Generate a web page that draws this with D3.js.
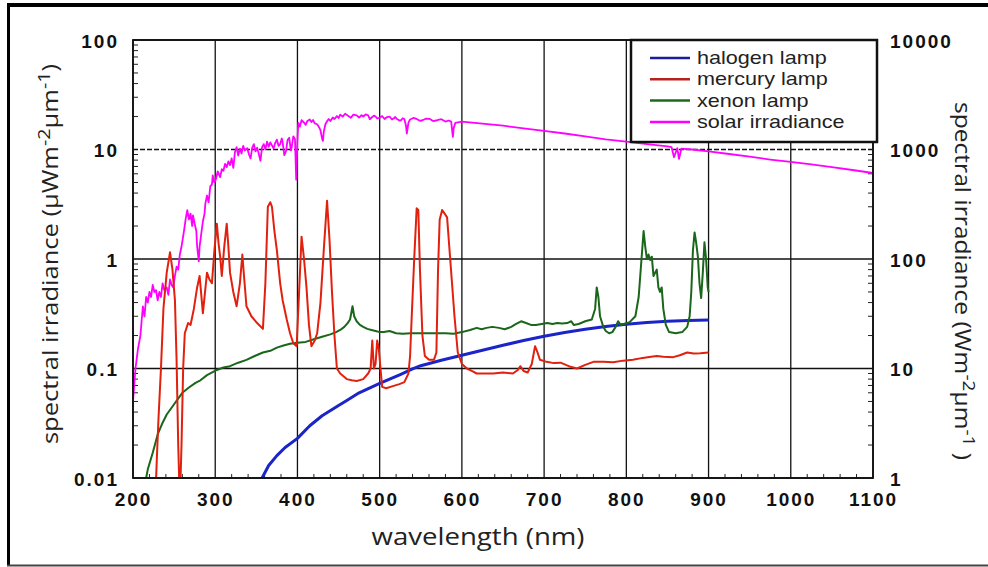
<!DOCTYPE html>
<html>
<head>
<meta charset="utf-8">
<script src="https://cdn.jsdelivr.net/npm/d3@7"></script>
<style>
  body { margin: 0; background: #fff; }
  svg { display: block; }
</style>
</head>
<body>
<div id="chart"></div>
<script>
// axis ticks
const xTicks = [200, 300, 400, 500, 600, 700, 800, 900, 1000, 1100];
const yTicks = [0.01, 0.1, 1, 10, 100];
const yLabels = ["0.01", "0.1", "1", "10", "100"];
const yRightTicks = [1, 10, 100, 1000, 10000];
const yRightLabels = ["1", "10", "100", "1000", "10000"];

const seriesNames = ["halogen lamp", "mercury lamp", "xenon lamp", "solar irradiance"];

// [wavelength nm, spectral irradiance uW m-2 um-1]
const halogen = [
  [357, 0.01], [365, 0.013], [375, 0.016], [385, 0.019], [400, 0.023], [415, 0.03],
  [430, 0.037], [450, 0.046], [460, 0.051], [475, 0.06], [500, 0.073], [525, 0.088],
  [540, 0.099], [550, 0.106], [575, 0.119], [600, 0.132], [625, 0.147], [650, 0.163],
  [675, 0.18], [700, 0.197], [725, 0.213], [750, 0.228], [775, 0.242], [800, 0.254],
  [825, 0.263], [850, 0.27], [875, 0.274], [900, 0.277]
];

const mercury = [
  [227, 0.006], [229, 0.015], [231, 0.035], [234, 0.1], [237, 0.35], [241, 0.75],
  [245, 1.15], [248, 0.8], [251, 0.42], [253, 0.12], [255, 0.02], [257, 0.006],
  [259, 0.02], [261, 0.1], [263, 0.21], [267, 0.26], [270, 0.25], [274, 0.35],
  [278, 0.55], [281, 0.7], [285, 0.32], [290, 0.75], [293, 0.65], [296, 0.6],
  [299, 1.2], [302, 2.1], [304, 1.4], [306, 1.05], [308, 0.7], [311, 1.3],
  [314, 2.1], [316, 1.3], [318, 0.75], [322, 0.5], [326, 0.37], [330, 0.6],
  [333, 1.1], [335, 0.7], [338, 0.37], [344, 0.3], [351, 0.26], [358, 0.23],
  [361, 0.6], [364, 3.0], [367, 3.3], [369, 3.0], [372, 1.8], [375, 1.2],
  [379, 0.6], [382, 0.42], [387, 0.28], [391, 0.21], [395, 0.17], [399, 0.16],
  [402, 0.5], [405, 1.6], [408, 1.0], [411, 0.55], [414, 0.25], [417, 0.16],
  [421, 0.18], [424, 0.21], [428, 0.4], [432, 1.2], [436, 3.4], [439, 1.5],
  [442, 0.5], [445, 0.2], [448, 0.1], [452, 0.09], [456, 0.085], [460, 0.08],
  [466, 0.078], [472, 0.077], [480, 0.08], [486, 0.09], [489, 0.1], [491, 0.18],
  [493, 0.1], [495, 0.11], [497, 0.18], [499, 0.15], [501, 0.1], [503, 0.068],
  [508, 0.066], [516, 0.069], [524, 0.072], [530, 0.075], [535, 0.09], [537, 0.13],
  [539, 0.3], [542, 1.0], [545, 2.9], [547, 2.8], [549, 0.8], [552, 0.2],
  [555, 0.13], [560, 0.12], [566, 0.12], [569, 0.14], [571, 0.8], [573, 2.3],
  [576, 2.8], [579, 2.6], [582, 2.4], [585, 1.2], [588, 0.6], [591, 0.3],
  [595, 0.14], [600, 0.11], [606, 0.1], [612, 0.095], [618, 0.09], [628, 0.09],
  [638, 0.09], [650, 0.092], [662, 0.09], [668, 0.097], [671, 0.105], [675, 0.095],
  [680, 0.092], [685, 0.11], [689, 0.16], [692, 0.14], [695, 0.12], [703, 0.115],
  [712, 0.112], [720, 0.113], [730, 0.105], [740, 0.1], [750, 0.108], [760, 0.115],
  [772, 0.115], [784, 0.114], [796, 0.118], [808, 0.12], [820, 0.125], [830, 0.128],
  [837, 0.13], [845, 0.128], [857, 0.127], [865, 0.132], [874, 0.14], [882, 0.137],
  [890, 0.138], [900, 0.14]
];

const xenon = [
  [216, 0.01], [218, 0.012], [224, 0.017], [230, 0.025], [236, 0.032], [241, 0.038],
  [248, 0.045], [254, 0.052], [260, 0.06], [268, 0.067], [276, 0.074], [282, 0.078],
  [290, 0.087], [302, 0.097], [310, 0.102], [318, 0.105], [328, 0.113], [338, 0.12],
  [348, 0.13], [358, 0.14], [367, 0.145], [375, 0.155], [383, 0.162], [391, 0.168],
  [400, 0.172], [410, 0.175], [420, 0.185], [430, 0.195], [440, 0.205], [447, 0.215],
  [452, 0.225], [457, 0.24], [461, 0.26], [464, 0.28], [467, 0.37], [469, 0.3],
  [472, 0.27], [476, 0.25], [480, 0.24], [485, 0.23], [490, 0.225], [495, 0.22],
  [500, 0.215], [505, 0.215], [512, 0.22], [520, 0.21], [528, 0.208], [538, 0.21],
  [548, 0.21], [560, 0.21], [570, 0.21], [580, 0.21], [590, 0.208], [600, 0.215],
  [610, 0.225], [618, 0.235], [624, 0.228], [630, 0.235], [637, 0.24], [645, 0.235],
  [652, 0.228], [660, 0.24], [666, 0.255], [672, 0.27], [678, 0.26], [684, 0.25],
  [690, 0.25], [697, 0.255], [704, 0.26], [710, 0.255], [716, 0.26], [722, 0.258],
  [728, 0.26], [733, 0.27], [736, 0.25], [742, 0.255], [750, 0.27], [758, 0.28],
  [762, 0.35], [764, 0.55], [766, 0.45], [768, 0.3], [772, 0.24], [775, 0.22],
  [779, 0.21], [783, 0.215], [787, 0.24], [790, 0.27], [793, 0.25], [797, 0.255],
  [804, 0.265], [811, 0.3], [815, 0.45], [818, 0.9], [821, 1.8], [823, 1.3],
  [825, 1.0], [827, 1.1], [829, 0.98], [831, 1.05], [833, 0.7], [835, 0.75],
  [837, 0.8], [839, 0.55], [841, 0.5], [843, 0.55], [845, 0.35], [848, 0.25],
  [852, 0.215], [860, 0.21], [868, 0.215], [874, 0.24], [877, 0.3], [879, 0.5],
  [881, 1.2], [883, 1.75], [885, 1.4], [887, 1.05], [889, 0.6], [891, 0.44],
  [893, 0.75], [895, 1.42], [897, 1.0], [899, 0.55], [900, 0.5]
];

const solar = [
  [200, 0.05], [203, 0.1], [206, 0.15], [209, 0.2], [212, 0.37], [214, 0.3],
  [216, 0.45], [218, 0.4], [220, 0.5], [222, 0.45], [224, 0.58], [226, 0.5],
  [228, 0.52], [230, 0.42], [232, 0.5], [234, 0.45], [236, 0.6], [238, 0.52],
  [241, 0.55], [243, 0.47], [245, 0.65], [247, 0.58], [249, 0.55], [251, 0.7],
  [253, 0.85], [255, 0.8], [257, 1.1], [259, 1.3], [262, 1.8], [264, 2.3],
  [266, 2.8], [268, 2.3], [270, 2.6], [272, 2.0], [273, 2.5], [275, 2.1],
  [277, 1.8], [278, 1.3], [280, 0.95], [281, 1.3], [283, 1.7], [285, 2.2],
  [287, 2.6], [288, 3.2], [290, 3.8], [292, 3.3], [294, 4.6], [296, 4.8],
  [297, 5.8], [299, 5.0], [301, 5.4], [303, 6.3], [306, 5.6], [308, 6.6],
  [310, 6.4], [312, 7.4], [314, 6.9], [316, 7.8], [318, 7.2], [320, 8.3],
  [322, 6.8], [324, 9.5], [326, 10.5], [328, 8.8], [330, 10.2], [332, 9.2],
  [334, 10.8], [336, 9.8], [339, 10.3], [341, 9.0], [343, 8.3], [345, 10.4],
  [347, 11.2], [349, 9.6], [351, 10.4], [353, 9.1], [355, 7.9], [357, 10.5],
  [359, 11.2], [361, 10.0], [363, 11.8], [365, 10.6], [367, 11.6], [369, 10.9],
  [371, 10.2], [373, 11.5], [375, 12.3], [377, 10.8], [379, 11.2], [381, 12.6],
  [382, 11.6], [384, 8.9], [386, 9.6], [388, 12.2], [390, 12.8], [392, 9.8],
  [393, 10.5], [395, 13.2], [397, 12.4], [398.5, 5.3], [400, 12], [401, 17.5],
  [403, 16.2], [405, 18.5], [408, 17.6], [410, 16.8], [412, 18.2], [415, 18.8],
  [417, 17.8], [419, 18.6], [421, 17.3], [424, 17], [426, 16.1], [428, 15],
  [430, 12.5], [431, 12], [432, 14.5], [434, 17], [436, 18.1], [438, 19],
  [440, 18.2], [443, 19.6], [445, 19.0], [448, 20.2], [450, 19.4], [452, 20.8],
  [455, 20.0], [458, 21.2], [461, 20.4], [465, 19.5], [468, 20.8], [472, 20.5],
  [475, 19.6], [478, 20.6], [480, 20], [483, 20.9], [486, 20.5], [488, 18.9],
  [490, 19.5], [493, 20.4], [495, 20], [497, 19.2], [500, 19.5], [503, 20.2],
  [506, 19], [509, 19.8], [512, 20], [515, 18.8], [517, 19.2], [519, 19.8],
  [521, 19], [524, 18.4], [526, 18.5], [528, 19.3], [530, 19], [532, 16.5],
  [533, 14], [535, 17.6], [537, 18.8], [541, 19.4], [545, 19], [549, 18.3],
  [552, 18.5], [556, 19.1], [561, 19], [565, 18.2], [570, 18.5], [575, 18.9],
  [580, 18], [584, 18.4], [587, 18], [589, 13], [590, 15.6], [592, 17.5],
  [600, 18], [625, 17.2], [650, 16.5], [675, 15.6], [700, 14.8], [725, 14],
  [750, 13.2], [775, 12.4], [800, 11.8], [825, 11.2], [850, 10.7], [855, 10.5],
  [858, 8.5], [862, 10.3], [864, 8.2], [867, 10.2], [880, 10], [900, 9.6],
  [925, 9.1], [950, 8.6], [975, 8.1], [1000, 7.7], [1025, 7.3], [1050, 6.9],
  [1075, 6.5], [1100, 6.1]
];

const width = 988;
const height = 567;
const plot = { left: 133, right: 873, top: 40, bottom: 478 };

const svg = d3
  .select("#chart")
  .append("svg")
  .attr("width", width)
  .attr("height", height);

// outer frame
svg.append("line").attr("x1", 7).attr("x2", width).attr("y1", 5).attr("y2", 5)
  .attr("stroke", "#000").attr("stroke-width", 4);
svg.append("line").attr("x1", 8.5).attr("x2", 8.5).attr("y1", 3).attr("y2", 566)
  .attr("stroke", "#000").attr("stroke-width", 3);
svg.append("line").attr("x1", 7).attr("x2", width).attr("y1", 565.5).attr("y2", 565.5)
  .attr("stroke", "#444").attr("stroke-width", 2);

let x = d3.scaleLinear().domain([200, 1100]).range([plot.left, plot.right]);
let y = d3.scaleLog().domain([0.01, 100]).range([plot.bottom, plot.top]);
let yRight = d3.scaleLog().domain([1, 10000]).range([plot.bottom, plot.top]);

svg.append("defs").append("clipPath").attr("id", "clip")
  .append("rect")
  .attr("x", plot.left).attr("y", plot.top)
  .attr("width", plot.right - plot.left).attr("height", plot.bottom - plot.top);

// grid
let grid = svg.append("g").attr("stroke", "#111").attr("stroke-width", 1.3);
grid.selectAll(".vgrid")
  .data(xTicks)
  .enter()
  .append("line")
  .attr("x1", (d) => x(d)).attr("x2", (d) => x(d))
  .attr("y1", plot.top).attr("y2", plot.bottom);
grid.selectAll(".hgrid")
  .data(yTicks)
  .enter()
  .append("line")
  .attr("x1", plot.left).attr("x2", plot.right)
  .attr("y1", (d) => y(d)).attr("y2", (d) => y(d))
  .attr("stroke-dasharray", (d) => (d === 10 ? "5,2" : null));

// minor ticks
let minorY = [];
[0.01, 0.1, 1, 10].forEach((dec) => {
  for (let k = 2; k <= 9; k++) minorY.push(dec * k);
});
let minorX = d3.range(220, 1100, 20).filter((d) => d % 100 !== 0);
let minor = svg.append("g").attr("stroke", "#222").attr("stroke-width", 1);
minor.selectAll(".ml").data(minorY).enter().append("line")
  .attr("x1", plot.left).attr("x2", plot.left + 5)
  .attr("y1", (d) => y(d)).attr("y2", (d) => y(d));
minor.selectAll(".mr").data(minorY).enter().append("line")
  .attr("x1", plot.right).attr("x2", plot.right - 5)
  .attr("y1", (d) => y(d)).attr("y2", (d) => y(d));
minor.selectAll(".mb").data(minorX).enter().append("line")
  .attr("x1", (d) => x(d)).attr("x2", (d) => x(d))
  .attr("y1", plot.bottom).attr("y2", plot.bottom - 4);

// curves
let line = d3.line()
  .x((d) => x(d[0]))
  .y((d) => y(d[1]));

let curves = svg.append("g").attr("clip-path", "url(#clip)").attr("fill", "none")
  .attr("stroke-linejoin", "round");

curves.append("path").datum(solar).attr("d", line)
  .attr("stroke", "#ff00ff").attr("stroke-width", 1.8);
curves.append("path").datum(halogen).attr("d", line)
  .attr("stroke", "#1a24c8").attr("stroke-width", 3);
curves.append("path").datum(xenon).attr("d", line)
  .attr("stroke", "#1a661a").attr("stroke-width", 2);
curves.append("path").datum(mercury).attr("d", line)
  .attr("stroke", "#e2200e").attr("stroke-width", 2);

// plot border
svg.append("rect")
  .attr("x", plot.left).attr("y", plot.top)
  .attr("width", plot.right - plot.left).attr("height", plot.bottom - plot.top)
  .attr("fill", "none").attr("stroke", "#111").attr("stroke-width", 1.8);

// axes
const tickFont = "'Liberation Sans', Arial, sans-serif";

let yAxis = d3.axisLeft(y).tickValues(yTicks)
  .tickFormat((d, i) => yLabels[i]).tickSize(0).tickPadding(14);
let gy = svg.append("g").attr("transform", `translate(${plot.left},0)`).call(yAxis);

let yAxisR = d3.axisRight(yRight).tickValues(yRightTicks)
  .tickFormat((d, i) => yRightLabels[i]).tickSize(0).tickPadding(17);
let gyr = svg.append("g").attr("transform", `translate(${plot.right},0)`).call(yAxisR);

let xAxis = d3.axisBottom(x).tickValues(xTicks).tickFormat((d) => d).tickSize(0).tickPadding(15);
let gx = svg.append("g").attr("transform", `translate(0,${plot.bottom})`).call(xAxis);

[gy, gyr, gx].forEach((g) => {
  g.select(".domain").remove();
  g.selectAll("text")
    .attr("fill", "#111")
    .style("font-family", tickFont)
    .style("font-weight", "bold")
    .style("font-size", "19px")
    .style("letter-spacing", "2px");
});
gy.selectAll("text").attr("dy", "0.38em");
gyr.selectAll("text").attr("dy", "0.38em");

// axis titles
const titleFont = "'Open Sans', 'Noto Sans', sans-serif";

svg.append("text")
  .attr("transform", "translate(478,545) scale(1.2,1)")
  .attr("text-anchor", "middle")
  .style("font-family", titleFont).style("font-size", "23px").attr("fill", "#222")
  .text("wavelength (nm)");

function yTitle(tx, ty, rot, stretch, unitPre, close) {
  let t = svg.append("text")
    .attr("transform", `translate(${tx},${ty}) rotate(${rot}) scale(${stretch},1)`)
    .attr("text-anchor", "middle")
    .style("font-family", titleFont).style("font-size", "22px").attr("fill", "#222");
  t.append("tspan").text("spectral irradiance (" + unitPre);
  t.append("tspan").attr("dy", -8).style("font-size", "17px").text("-2");
  t.append("tspan").attr("dy", 8).text("µm");
  t.append("tspan").attr("dy", -8).style("font-size", "17px").text("-1");
  t.append("tspan").attr("dy", 8).text(close);
}
yTitle(58, 254, -90, 1.16, "µWm", ")");
yTitle(955, 281, 90, 1.12, "Wm", " )");

// legend
const legendColors = ["#1c1ca0", "#b82020", "#1b6b1b", "#ff00ff"];
let legend = svg.append("g");
legend.append("rect")
  .attr("x", 631).attr("y", 40).attr("width", 246).attr("height", 102)
  .attr("fill", "#fff").attr("stroke", "#111").attr("stroke-width", 2.5);
let rows = legend.selectAll(".row")
  .data(seriesNames)
  .enter()
  .append("g")
  .attr("transform", (d, i) => `translate(0,${58 + i * 21.3})`);
rows.append("line")
  .attr("x1", 650).attr("x2", 690)
  .attr("stroke", (d, i) => legendColors[i]).attr("stroke-width", 2.5);
rows.append("text")
  .attr("transform", "translate(697,6) scale(1.2,1)")
  .style("font-family", tickFont).style("font-size", "18px").attr("fill", "#222")
  .text((d) => d);
</script>
</body>
</html>
